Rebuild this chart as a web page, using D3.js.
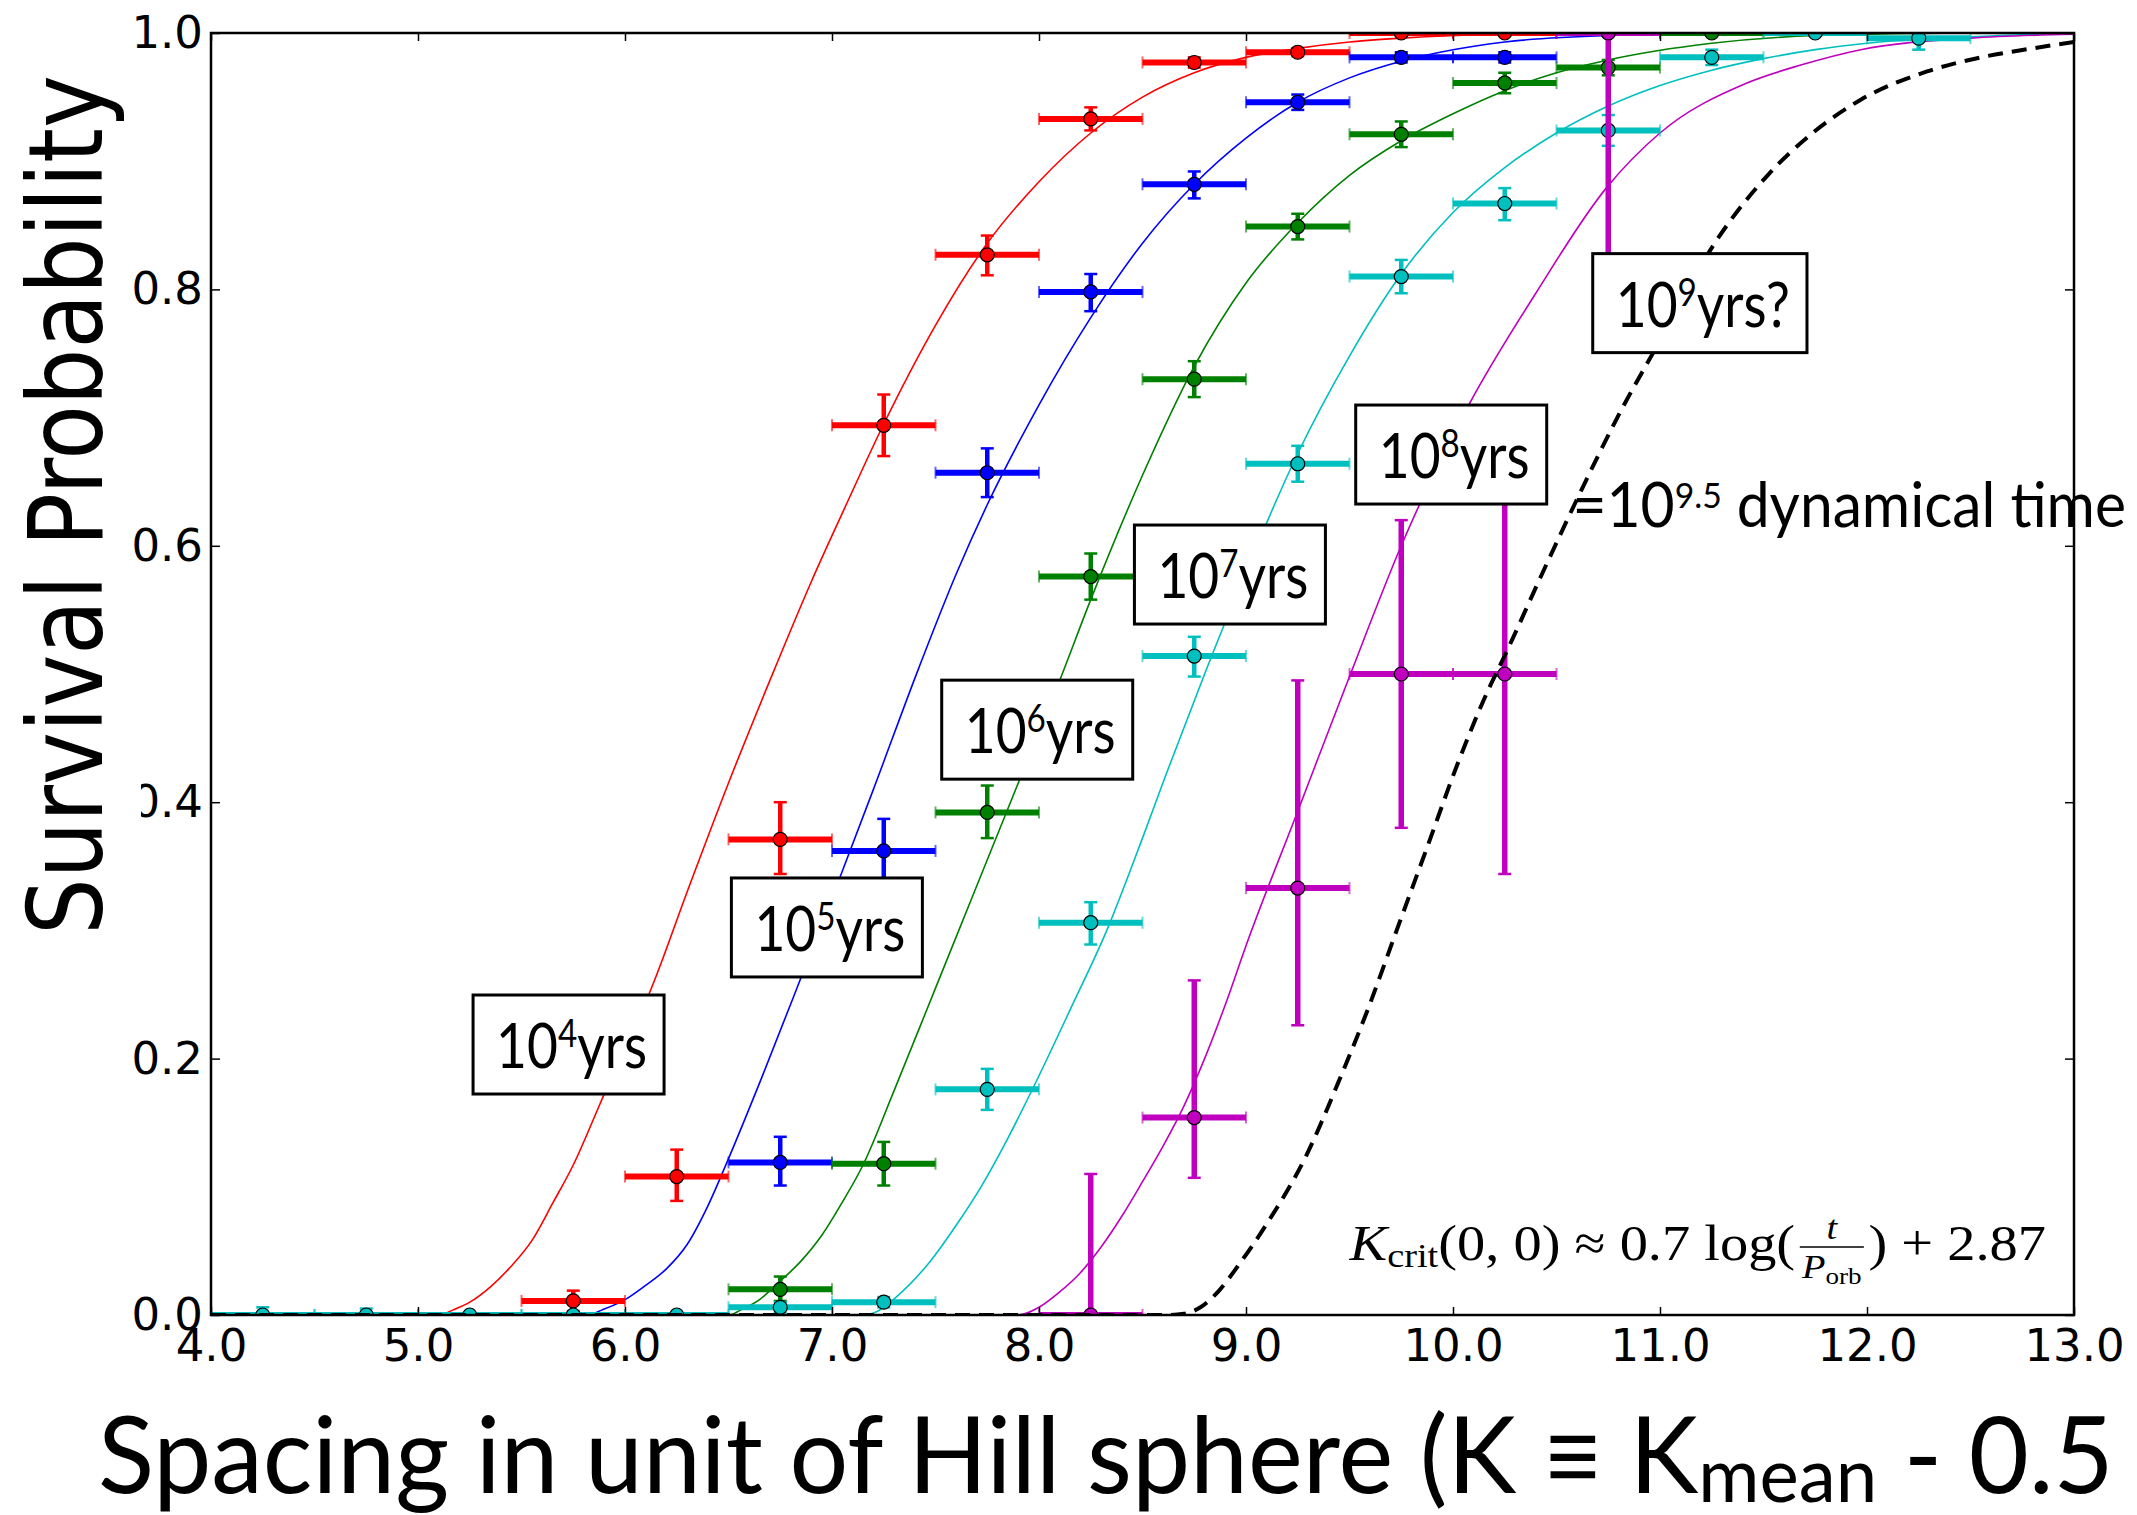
<!DOCTYPE html>
<html>
<head>
<meta charset="utf-8">
<title>Survival probability vs. orbital spacing</title>
<script src="https://cdn.jsdelivr.net/npm/d3@7"></script>
<style>
  html, body { margin: 0; padding: 0; background: #fff; }
  svg { display: block; }
</style>
</head>
<body>
<svg id="chart" width="2137" height="1515"></svg>
<script>
// ---------------------------------------------------------------------------
// Data
// ---------------------------------------------------------------------------
const xTicks = [4, 5, 6, 7, 8, 9, 10, 11, 12, 13];
const yTicks = [0, 0.2, 0.4, 0.6, 0.8, 1.0];

// half width of every spacing bin (horizontal error bar)
const binHalfWidth = 0.25;

// survival fraction per spacing bin: [K, P, error below, error above]
const bins1e4 = [
  [5.75, 0.011, 0.008, 0.008], [6.25, 0.108, 0.019, 0.021], [6.75, 0.371, 0.027, 0.029],
  [7.25, 0.694, 0.024, 0.024], [7.75, 0.827, 0.016, 0.015], [8.25, 0.933, 0.009, 0.009],
  [8.75, 0.977, 0.004, 0.004], [9.25, 0.985, 0.003, 0.003], [9.75, 1.0, 0, 0],
  [10.25, 1.0, 0, 0]
];
const bins1e5 = [
  [6.75, 0.119, 0.018, 0.020], [7.25, 0.362, 0.025, 0.025], [7.75, 0.657, 0.019, 0.019],
  [8.25, 0.798, 0.015, 0.014], [8.75, 0.882, 0.011, 0.010], [9.25, 0.946, 0.006, 0.006],
  [9.75, 0.981, 0.004, 0.004], [10.25, 0.981, 0.004, 0.004], [10.75, 1.0, 0, 0]
];
const bins1e6 = [
  [6.75, 0.020, 0.009, 0.010], [7.25, 0.118, 0.017, 0.017], [7.75, 0.392, 0.020, 0.021],
  [8.25, 0.576, 0.018, 0.018], [8.75, 0.730, 0.014, 0.014], [9.25, 0.849, 0.010, 0.010],
  [9.75, 0.921, 0.010, 0.010], [10.25, 0.961, 0.008, 0.008], [10.75, 0.973, 0.006, 0.006],
  [11.25, 1.0, 0, 0]
];
const bins1e7 = [
  [4.25, 0, 0, 0.006], [4.75, 0, 0, 0.005], [5.25, 0, 0, 0], [5.75, 0, 0, 0],
  [6.25, 0, 0, 0], [6.75, 0.006, 0.004, 0.004], [7.25, 0.010, 0.004, 0.004],
  [7.75, 0.176, 0.016, 0.016], [8.25, 0.306, 0.017, 0.016], [8.75, 0.514, 0.016, 0.015],
  [9.25, 0.664, 0.014, 0.014], [9.75, 0.810, 0.013, 0.013], [10.25, 0.867, 0.013, 0.012],
  [10.75, 0.924, 0.012, 0.012], [11.25, 0.981, 0.006, 0.006], [11.75, 1.0, 0, 0],
  [12.25, 0.996, 0.009, 0.004]
];
const bins1e8 = [
  [8.25, 0, 0, 0.110], [8.75, 0.154, 0.047, 0.107], [9.25, 0.333, 0.107, 0.162],
  [9.75, 0.5, 0.12, 0.12], [10.25, 0.5, 0.156, 0.156], [10.75, 1.0, 0.2, 0]
];

// fitted survival curves, sampled as [K, P]
const fit1e4 = [
  [4, 0], [5.10, 0], [5.17, 0.004], [5.25, 0.010], [5.35, 0.022], [5.45, 0.038],
  [5.55, 0.058], [5.65, 0.087], [5.75, 0.117], [5.88, 0.165], [6.0, 0.21], [6.12, 0.252],
  [6.3, 0.33], [6.5, 0.415], [6.7, 0.495], [6.9, 0.572], [7.06, 0.629], [7.25, 0.695],
  [7.5, 0.772], [7.75, 0.836], [8.0, 0.884], [8.25, 0.922], [8.5, 0.950], [8.75, 0.969],
  [9.0, 0.981], [9.25, 0.988], [9.5, 0.993], [9.75, 0.996], [10.25, 0.999], [11, 1], [13, 1]
];
const fit1e5 = [
  [4, 0], [5.82, 0], [5.89, 0.004], [6.0, 0.012], [6.09, 0.022], [6.2, 0.036], [6.3, 0.055],
  [6.4, 0.085], [6.5, 0.122], [6.66, 0.185], [6.85, 0.263], [7.04, 0.342], [7.2, 0.41],
  [7.42, 0.505], [7.6, 0.578], [7.75, 0.632], [7.9, 0.680], [8.0, 0.710], [8.25, 0.778],
  [8.5, 0.836], [8.75, 0.882], [9.0, 0.918], [9.25, 0.946], [9.5, 0.965], [9.75, 0.978],
  [10.0, 0.987], [10.25, 0.993], [10.75, 0.998], [11.5, 1], [13, 1]
];
const fit1e6 = [
  [4, 0], [6.5, 0], [6.56, 0.004], [6.65, 0.012], [6.74, 0.025], [6.85, 0.042], [6.95, 0.062],
  [7.05, 0.088], [7.15, 0.117], [7.3, 0.175], [7.5, 0.255], [7.7, 0.335], [7.84, 0.391],
  [8.0, 0.455], [8.1, 0.495], [8.25, 0.558], [8.5, 0.655], [8.75, 0.740], [9.0, 0.805],
  [9.25, 0.852], [9.5, 0.889], [9.75, 0.916], [10.0, 0.937], [10.25, 0.955], [10.5, 0.969],
  [10.75, 0.979], [11.25, 0.992], [11.75, 0.998], [12.5, 1], [13, 1]
];
const fit1e7 = [
  [4, 0], [7.15, 0], [7.22, 0.003], [7.31, 0.014], [7.475, 0.042], [7.6, 0.070], [7.72, 0.10],
  [7.85, 0.138], [7.98, 0.18], [8.15, 0.238], [8.33, 0.301], [8.5, 0.372], [8.61, 0.42],
  [8.8, 0.50], [9.0, 0.58], [9.25, 0.672], [9.5, 0.748], [9.75, 0.812], [10.0, 0.860],
  [10.25, 0.895], [10.5, 0.922], [10.75, 0.943], [11.0, 0.959], [11.25, 0.971], [11.5, 0.98],
  [11.75, 0.987], [12.0, 0.992], [12.5, 0.997], [13, 1]
];
const fit1e8 = [
  [4, 0], [7.9, 0], [8.0, 0.006], [8.1, 0.018], [8.2, 0.033], [8.3, 0.053], [8.4, 0.077],
  [8.5, 0.104], [8.6, 0.132], [8.7, 0.163], [8.8, 0.200], [8.9, 0.242], [9.0, 0.288],
  [9.25, 0.393], [9.5, 0.498], [9.75, 0.600], [10.08, 0.711], [10.4, 0.797], [10.74, 0.879],
  [11.0, 0.922], [11.42, 0.961], [11.68, 0.975], [11.97, 0.987], [12.5, 0.996], [13, 0.999]
];
// extrapolated curve for 10^9.5 dynamical times
const fitDynamical = [
  [4, 0], [8.62, 0], [8.70, 0.001], [8.78, 0.006], [8.87, 0.019], [8.96, 0.038], [9.10, 0.071],
  [9.29, 0.124], [9.45, 0.183], [9.59, 0.239], [9.73, 0.301], [9.88, 0.367], [10.02, 0.429],
  [10.18, 0.491], [10.24, 0.511], [10.45, 0.585], [10.61, 0.640], [10.81, 0.705], [11.0, 0.76],
  [11.26, 0.835], [11.52, 0.889], [11.73, 0.921], [11.97, 0.948], [12.29, 0.970], [12.55, 0.981],
  [12.80, 0.988], [13.0, 0.993]
];

// epoch labels: [mantissa, exponent, unit]
const epochLabels = [
  ["10", "4", "yrs"], ["10", "5", "yrs"], ["10", "6", "yrs"],
  ["10", "7", "yrs"], ["10", "8", "yrs"], ["10", "9", "yrs?"]
];

// ---------------------------------------------------------------------------
// Layout
// ---------------------------------------------------------------------------
const W = 2137, H = 1515;
const box = { left: 211, right: 2074, top: 33, bottom: 1315 };

const x = d3.scaleLinear().domain([4, 13]).range([box.left, box.right]);
const y = d3.scaleLinear().domain([0, 1]).range([box.bottom, box.top]);

const svg = d3.select("#chart");
svg.append("rect").attr("width", W).attr("height", H).attr("fill", "#fff");

svg.append("defs").append("clipPath").attr("id", "plot-area")
  .append("rect")
  .attr("x", box.left).attr("y", box.top)
  .attr("width", box.right - box.left).attr("height", box.bottom - box.top);

const plot = svg.append("g").attr("clip-path", "url(#plot-area)");

const series = [
  { bins: bins1e4, fit: fit1e4, color: "#ff0000", vWidth: 4.5 },
  { bins: bins1e5, fit: fit1e5, color: "#0000ff", vWidth: 4.5 },
  { bins: bins1e6, fit: fit1e6, color: "#008000", vWidth: 4.5 },
  { bins: bins1e7, fit: fit1e7, color: "#00bfbf", vWidth: 4.5 },
  { bins: bins1e8, fit: fit1e8, color: "#bf00bf", vWidth: 5.5 }
];

const curve = d3.line()
  .x(d => x(d[0]))
  .y(d => y(d[1]))
  .curve(d3.curveMonotoneX);

// fitted curves
plot.append("g").selectAll("path").data(series).join("path")
  .attr("d", s => curve(s.fit))
  .attr("fill", "none")
  .attr("stroke", s => s.color)
  .attr("stroke-width", 1.6);

// binned measurements with error bars
series.forEach(s => {
  const g = plot.append("g");
  g.selectAll("line.xbar").data(s.bins).join("line").attr("class", "xbar")
    .attr("x1", d => x(d[0] - binHalfWidth)).attr("x2", d => x(d[0] + binHalfWidth))
    .attr("y1", d => y(d[1])).attr("y2", d => y(d[1]))
    .attr("stroke", s.color).attr("stroke-width", 6);

  const xEnds = s.bins.flatMap(d => [[d[0] - binHalfWidth, d[1]], [d[0] + binHalfWidth, d[1]]]);
  g.selectAll("line.xcap").data(xEnds).join("line").attr("class", "xcap")
    .attr("x1", d => x(d[0])).attr("x2", d => x(d[0]))
    .attr("y1", d => y(d[1]) - 6).attr("y2", d => y(d[1]) + 6)
    .attr("stroke", s.color).attr("stroke-width", 2).attr("stroke-opacity", 0.6);

  const withErr = s.bins.filter(d => d[2] + d[3] > 0);
  g.selectAll("line.ybar").data(withErr).join("line").attr("class", "ybar")
    .attr("x1", d => x(d[0])).attr("x2", d => x(d[0]))
    .attr("y1", d => y(d[1] - d[2])).attr("y2", d => y(d[1] + d[3]))
    .attr("stroke", s.color).attr("stroke-width", s.vWidth);

  const yEnds = withErr.flatMap(d => [[d[0], d[1] - d[2]], [d[0], d[1] + d[3]]]);
  g.selectAll("line.ycap").data(yEnds).join("line").attr("class", "ycap")
    .attr("x1", d => x(d[0]) - 6.5).attr("x2", d => x(d[0]) + 6.5)
    .attr("y1", d => y(d[1])).attr("y2", d => y(d[1]))
    .attr("stroke", s.color).attr("stroke-width", 2.5);

  g.selectAll("circle").data(s.bins).join("circle")
    .attr("cx", d => x(d[0])).attr("cy", d => y(d[1])).attr("r", 7)
    .attr("fill", s.color).attr("stroke", "#000").attr("stroke-width", 1.2);
});

// dynamical-time extrapolation
plot.append("path")
  .attr("d", curve(fitDynamical))
  .attr("fill", "none")
  .attr("stroke", "#000")
  .attr("stroke-width", 4)
  .attr("stroke-dasharray", "15,9");

// ---------------------------------------------------------------------------
// Axes
// ---------------------------------------------------------------------------
const tickFont = "DejaVu Sans, sans-serif";
const fmt = d3.format(".1f");

function styleAxis(g) {
  g.select(".domain").remove();
  g.attr("font-family", tickFont).attr("font-size", 45);
  g.selectAll(".tick line").attr("stroke", "#000").attr("stroke-width", 1.5);
  g.selectAll(".tick text").attr("fill", "#000");
}

svg.append("g").attr("transform", `translate(0,${box.bottom})`)
  .call(d3.axisBottom(x).tickValues(xTicks).tickFormat(fmt).tickSizeInner(-8).tickSizeOuter(0).tickPadding(14))
  .call(styleAxis);
svg.append("g").attr("transform", `translate(0,${box.top})`)
  .call(d3.axisTop(x).tickValues(xTicks).tickFormat("").tickSizeInner(-8).tickSizeOuter(0))
  .call(styleAxis);
svg.append("g").attr("transform", `translate(${box.left},0)`)
  .call(d3.axisLeft(y).tickValues(yTicks).tickFormat(fmt).tickSizeInner(-9).tickSizeOuter(0).tickPadding(8))
  .call(styleAxis);
svg.append("g").attr("transform", `translate(${box.right},0)`)
  .call(d3.axisRight(y).tickValues(yTicks).tickFormat("").tickSizeInner(-9).tickSizeOuter(0))
  .call(styleAxis);

// frame
svg.append("rect")
  .attr("x", box.left).attr("y", box.top)
  .attr("width", box.right - box.left).attr("height", box.bottom - box.top)
  .attr("fill", "none").attr("stroke", "#000").attr("stroke-width", 2.5);

// ---------------------------------------------------------------------------
// Epoch labels in boxes
// ---------------------------------------------------------------------------
const labelFont = "Lato, 'Open Sans', sans-serif";
const labelAnchors = [
  [5.266, 0.2496], [6.514, 0.3409], [7.530, 0.4952],
  [8.461, 0.6162], [9.530, 0.7098], [10.675, 0.8279]
];
const padL = 23, padR = 17, boxH = 99, baseOff = 73;

function epochText(parent, lab) {
  const t = parent.append("text")
    .attr("font-family", labelFont).attr("font-size", 61).attr("fill", "#000");
  t.append("tspan").text(lab[0]);
  t.append("tspan").attr("font-size", 38).attr("dy", -21).text(lab[1]);
  t.append("tspan").attr("dy", 21).text(lab[2]);
  return t;
}

// common horizontal scale so the labels keep a narrow humanist look
const probe = epochText(svg, epochLabels[1]);
const labelScale = 151 / probe.node().getComputedTextLength();
probe.remove();

const labelLayer = svg.append("g");
epochLabels.forEach((lab, i) => {
  const [k, p] = labelAnchors[i];
  const bx = x(k), by = y(p);
  const g = labelLayer.append("g");
  const rect = g.append("rect");
  const t = epochText(g, lab);
  const w = t.node().getComputedTextLength() * labelScale;
  t.attr("transform", `translate(${bx + padL},${by + baseOff}) scale(${labelScale},1)`);
  rect.attr("x", bx).attr("y", by).attr("width", padL + w + padR).attr("height", boxH)
    .attr("fill", "#fff").attr("stroke", "#000").attr("stroke-width", 3);
});

// dynamical time note
{
  const t = svg.append("text")
    .attr("font-family", labelFont).attr("font-size", 61).attr("fill", "#000");
  t.append("tspan").text("=10");
  t.append("tspan").attr("font-size", 35).attr("dy", -19).text("9.5");
  t.append("tspan").attr("dy", 19).text(" dynamical time");
  const w = t.node().getComputedTextLength();
  const x0 = x(10.577), x1 = 2126;
  t.attr("transform", `translate(${x0},${y(0.6145)}) scale(${(x1 - x0) / w},1)`);
}

// ---------------------------------------------------------------------------
// Formula
// ---------------------------------------------------------------------------
{
  const serif = "'Liberation Serif', 'DejaVu Serif', serif";
  const fg = svg.append("g").attr("font-family", serif).attr("fill", "#000");
  const t1 = fg.append("text").attr("font-size", 50);
  t1.append("tspan").attr("font-style", "italic").text("K");
  t1.append("tspan").attr("font-size", 34).attr("dy", 7).text("crit");
  t1.append("tspan").attr("dy", -7).text("(0, 0) \u2248 0.7 log(");
  const w1 = t1.node().getComputedTextLength();

  const fr = fg.append("g").attr("transform", `translate(${w1 + 4},0)`);
  const den = fr.append("text").attr("font-size", 34).attr("y", 18);
  den.append("tspan").attr("font-style", "italic").text("P");
  den.append("tspan").attr("font-size", 24).attr("dy", 6).text("orb");
  const dw = den.node().getComputedTextLength() + 4;
  den.attr("x", 2);
  fr.append("line").attr("x1", 0).attr("x2", dw).attr("y1", -13).attr("y2", -13)
    .attr("stroke", "#000").attr("stroke-width", 1.6);
  fr.append("text").attr("font-size", 34).attr("font-style", "italic")
    .attr("text-anchor", "middle").attr("x", dw / 2).attr("y", -21).text("t");

  const t2 = fg.append("text").attr("font-size", 50).attr("x", w1 + 4 + dw + 4).text(") + 2.87");
  const total = w1 + 4 + dw + 4 + t2.node().getComputedTextLength();
  const x0 = x(9.5), x1 = 2046;
  fg.attr("transform", `translate(${x0},${y(0.0429)}) scale(${(x1 - x0) / total},1)`);
}

// ---------------------------------------------------------------------------
// Axis titles
// ---------------------------------------------------------------------------
// white backing behind the lower part of the vertical title
svg.append("rect").attr("x", 0).attr("y", 565).attr("width", 141).attr("height", 375).attr("fill", "#fff");

{
  const t = svg.append("text")
    .attr("font-family", "DejaVu Sans, sans-serif").attr("font-size", 103).attr("fill", "#000")
    .text("Survival Probability");
  const len = t.node().getComputedTextLength();
  t.attr("transform", `translate(102,935) rotate(-90) scale(${860 / len},1)`);
}
{
  const t = svg.append("text")
    .attr("font-family", labelFont).attr("font-size", 106).attr("fill", "#000");
  t.append("tspan").text("Spacing in unit of Hill sphere (K \u2261 K");
  t.append("tspan").attr("font-size", 76).attr("dy", 9).text("mean");
  t.append("tspan").attr("dy", -9).text(" - 0.5");
  const w = t.node().getComputedTextLength();
  t.attr("transform", `translate(98,1493) scale(${(2114 - 98) / w},1)`);
}
</script>
</body>
</html>
